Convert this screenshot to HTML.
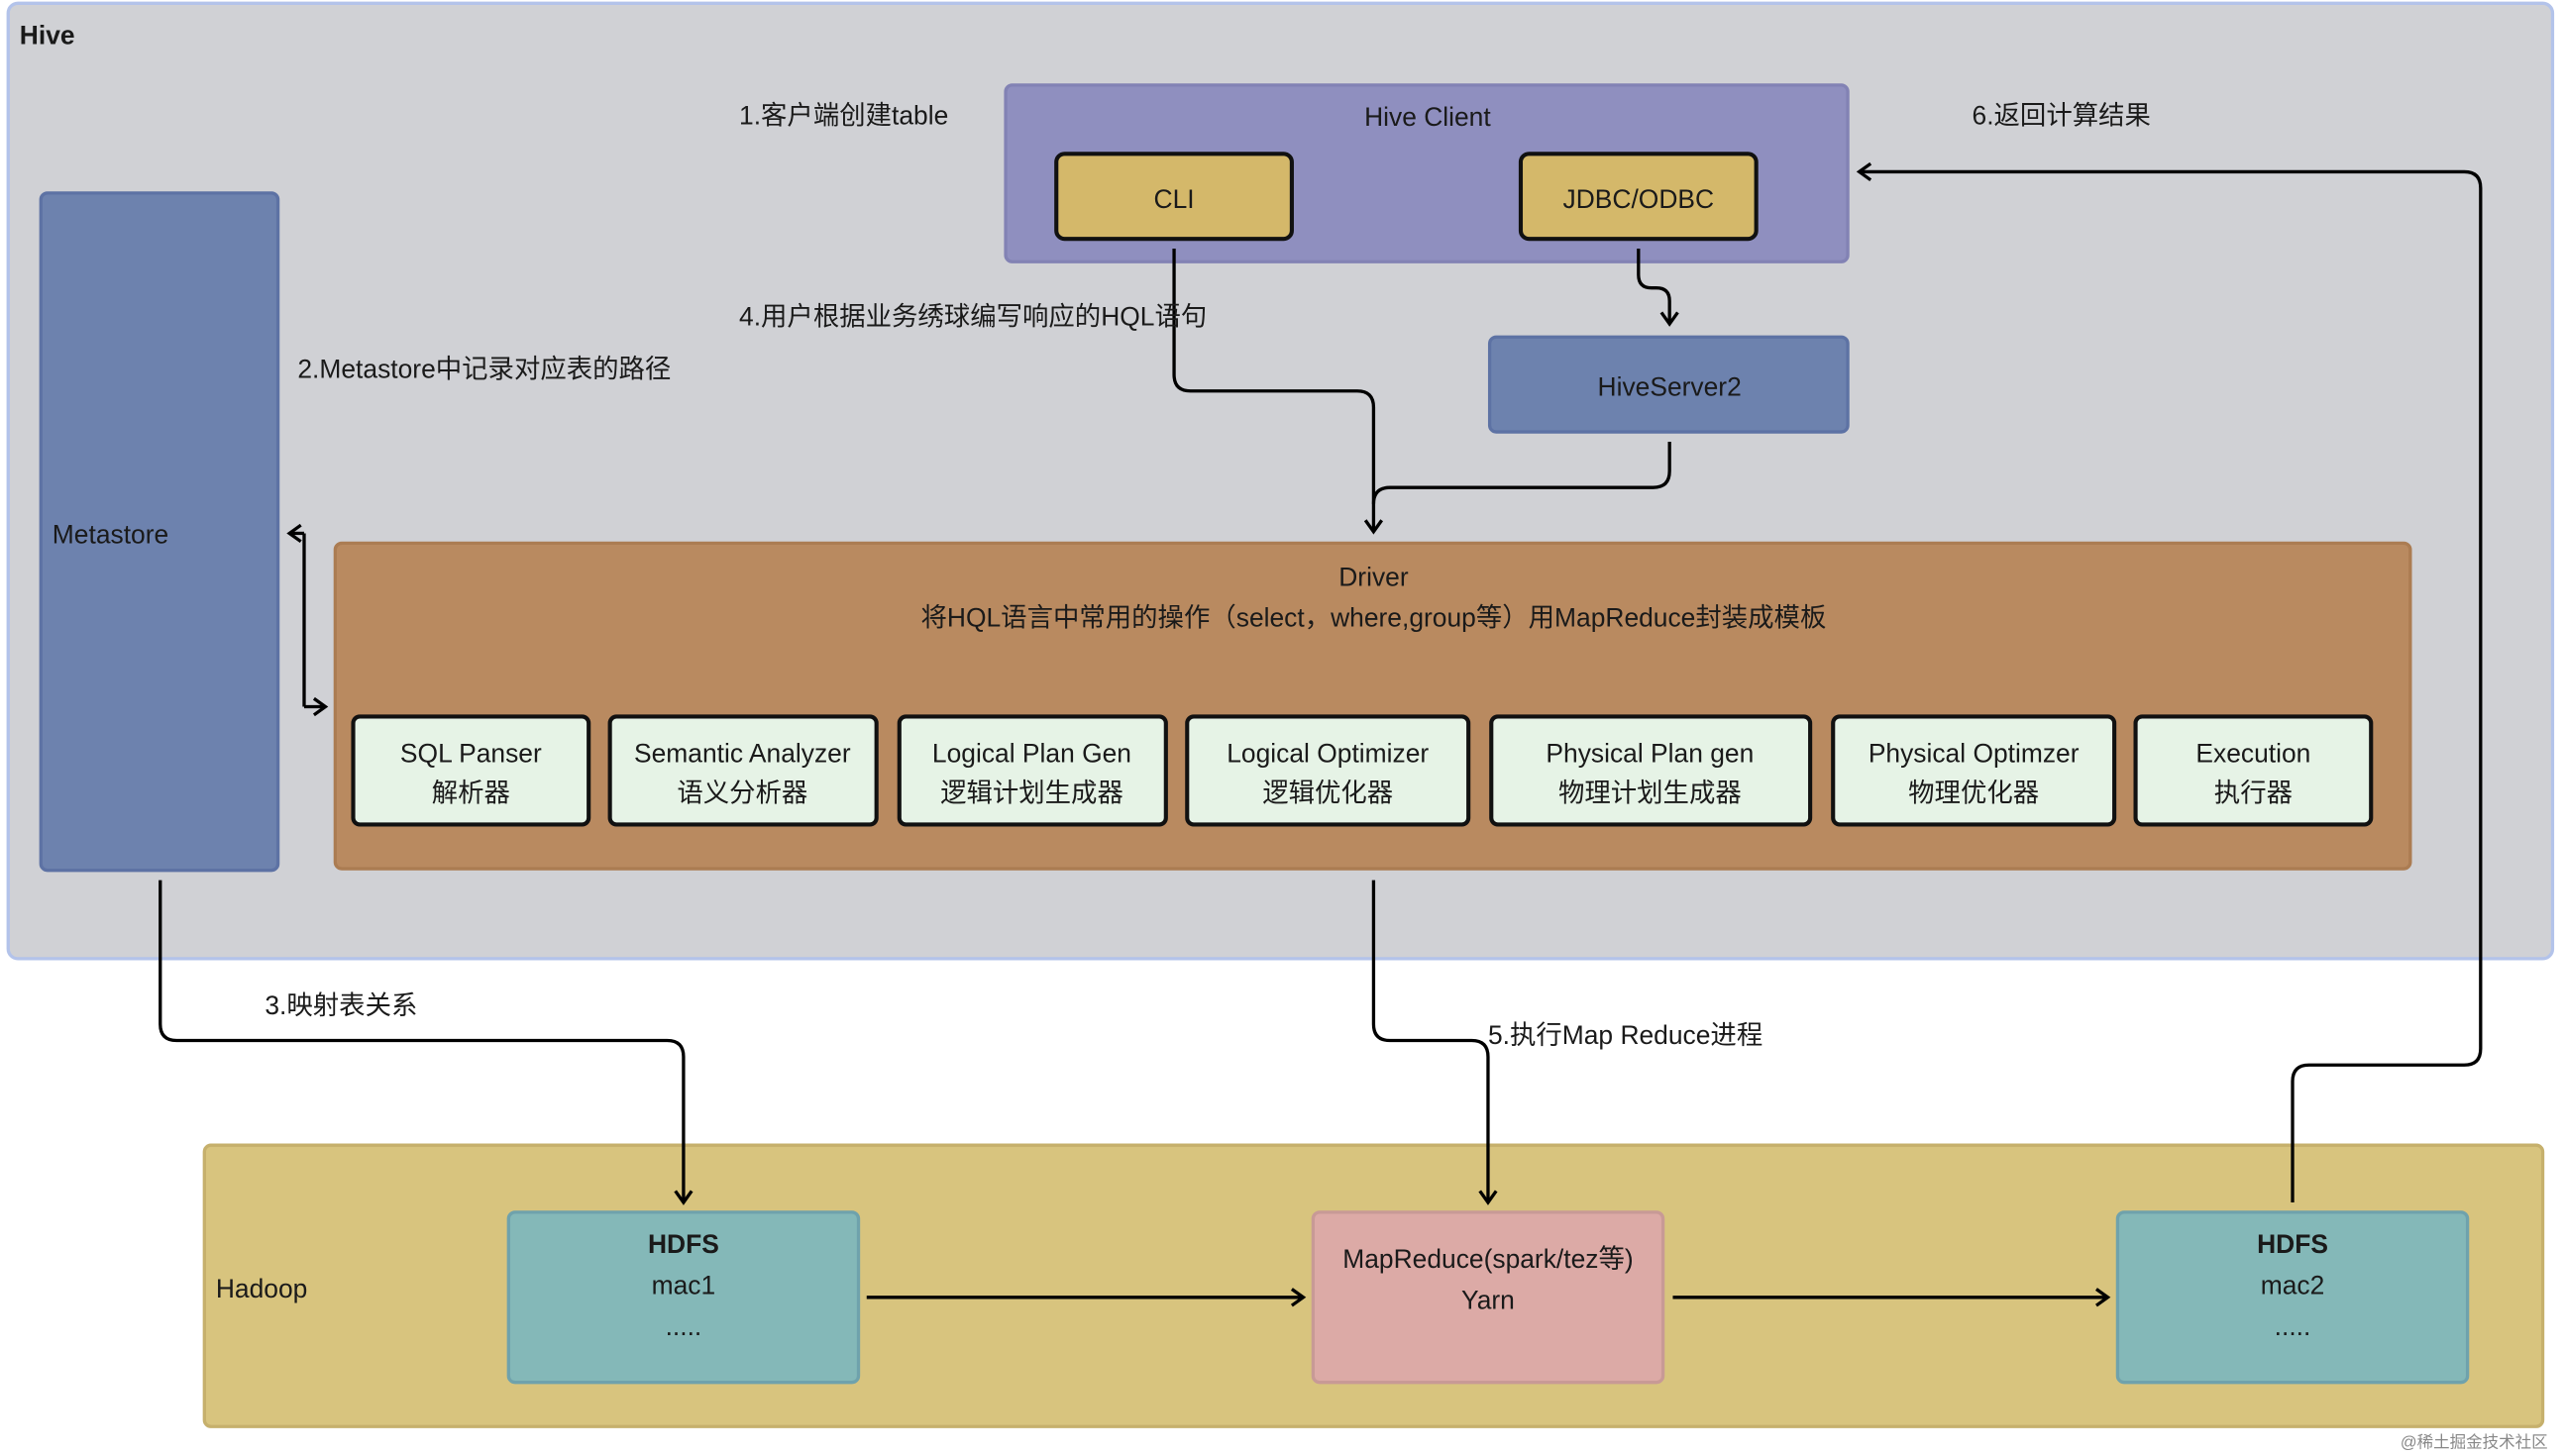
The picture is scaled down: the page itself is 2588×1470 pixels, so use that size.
<!DOCTYPE html>
<html><head><meta charset="utf-8"><style>
html,body{margin:0;padding:0;background:#fff;width:2588px;height:1470px;overflow:hidden}
svg{display:block}
text{font-family:"Liberation Sans","Noto Sans CJK SC",sans-serif;fill:#1a1a1a}
</style></head><body>
<svg width="2588" height="1470" viewBox="0 0 1568 890" preserveAspectRatio="none" xmlns="http://www.w3.org/2000/svg">
<defs>
<marker id="a" markerWidth="12" markerHeight="12" refX="9" refY="6" orient="auto" markerUnits="userSpaceOnUse">
<path d="M2,1 L9,6 L2,11" fill="none" stroke="#000" stroke-width="2"/>
</marker>
</defs>
<rect x="0" y="0" width="1568" height="890" fill="#fff"/>
<rect x="5" y="2" width="1556" height="584" rx="6" fill="#d0d1d5" stroke="#b3c3ea" stroke-width="2"/>
<text x="12" y="27" font-size="16" font-weight="bold">Hive</text>

<rect x="615" y="52" width="515" height="108" rx="4" fill="#8f8fbf" stroke="#8282b4" stroke-width="2"/>
<text x="873" y="77" font-size="16" text-anchor="middle">Hive Client</text>
<rect x="646" y="94" width="144" height="52" rx="5" fill="#d4b86a" stroke="#111" stroke-width="2.5"/>
<text x="718" y="127" font-size="16" text-anchor="middle">CLI</text>
<rect x="930" y="94" width="144" height="52" rx="5" fill="#d4b86a" stroke="#111" stroke-width="2.5"/>
<text x="1002" y="127" font-size="16" text-anchor="middle">JDBC/ODBC</text>

<rect x="911" y="206" width="219" height="58" rx="4" fill="#6d82ae" stroke="#5d72a4" stroke-width="2"/>
<text x="1021" y="242" font-size="16" text-anchor="middle">HiveServer2</text>

<rect x="25" y="118" width="145" height="414" rx="4" fill="#6d82ae" stroke="#5d72a4" stroke-width="2"/>
<text x="32" y="332" font-size="16">Metastore</text>

<rect x="205" y="332" width="1269" height="199" rx="4" fill="#b98a60" stroke="#ab7c52" stroke-width="2"/>
<text x="840" y="358" font-size="16" text-anchor="middle">Driver</text>
<text x="840" y="383" font-size="16" text-anchor="middle">将HQL语言中常用的操作（select，where,group等）用MapReduce封装成模板</text>

<g fill="#e6f3e6" stroke="#111" stroke-width="2.5">
<rect x="216" y="438" width="144" height="66" rx="4"/>
<rect x="373" y="438" width="163" height="66" rx="4"/>
<rect x="550" y="438" width="163" height="66" rx="4"/>
<rect x="726" y="438" width="172" height="66" rx="4"/>
<rect x="912" y="438" width="195" height="66" rx="4"/>
<rect x="1121" y="438" width="172" height="66" rx="4"/>
<rect x="1306" y="438" width="144" height="66" rx="4"/>
</g>
<g font-size="16" text-anchor="middle">
<text x="288" y="466">SQL Panser</text><text x="288" y="490">解析器</text>
<text x="454" y="466">Semantic Analyzer</text><text x="454" y="490">语义分析器</text>
<text x="631" y="466">Logical Plan Gen</text><text x="631" y="490">逻辑计划生成器</text>
<text x="812" y="466">Logical Optimizer</text><text x="812" y="490">逻辑优化器</text>
<text x="1009" y="466">Physical Plan gen</text><text x="1009" y="490">物理计划生成器</text>
<text x="1207" y="466">Physical Optimzer</text><text x="1207" y="490">物理优化器</text>
<text x="1378" y="466">Execution</text><text x="1378" y="490">执行器</text>
</g>

<rect x="125" y="700" width="1430" height="172" rx="4" fill="#d8c47e" stroke="#c6b06c" stroke-width="2"/>
<text x="132" y="793" font-size="16">Hadoop</text>
<rect x="311" y="741" width="214" height="104" rx="4" fill="#84b8b8" stroke="#6fa2ac" stroke-width="2"/>
<text x="418" y="766" font-size="16" font-weight="bold" text-anchor="middle">HDFS</text>
<text x="418" y="791" font-size="16" text-anchor="middle">mac1</text>
<text x="418" y="816" font-size="16" text-anchor="middle">.....</text>
<rect x="803" y="741" width="214" height="104" rx="4" fill="#dcaaa6" stroke="#c89a96" stroke-width="2"/>
<text x="910" y="775" font-size="16" text-anchor="middle">MapReduce(spark/tez等)</text>
<text x="910" y="800" font-size="16" text-anchor="middle">Yarn</text>
<rect x="1295" y="741" width="214" height="104" rx="4" fill="#84b8b8" stroke="#6fa2ac" stroke-width="2"/>
<text x="1402" y="766" font-size="16" font-weight="bold" text-anchor="middle">HDFS</text>
<text x="1402" y="791" font-size="16" text-anchor="middle">mac2</text>
<text x="1402" y="816" font-size="16" text-anchor="middle">.....</text>

<g fill="none" stroke="#000" stroke-width="2">
<path d="M718,152 V229 Q718,239 728,239 H830 Q840,239 840,249 V325" marker-end="url(#a)"/>
<path d="M1021,270 V288 Q1021,298 1011,298 H850 Q840,298 840,308"/>
<path d="M1002,152 V168 Q1002,176 1010,176 H1013 Q1021,176 1021,184 V198" marker-end="url(#a)"/>
<path d="M186,326 V432"/>
<path d="M98,538 V626 Q98,636 108,636 H408 Q418,636 418,646 V735" marker-end="url(#a)"/>
<path d="M840,538 V626 Q840,636 850,636 H900 Q910,636 910,646 V735" marker-end="url(#a)"/>
<path d="M530,793 H797" marker-end="url(#a)"/>
<path d="M1023,793 H1289" marker-end="url(#a)"/>
<path d="M1402,735 V661 Q1402,651 1412,651 H1507 Q1517,651 1517,641 V115 Q1517,105 1507,105 H1137" marker-end="url(#a)"/>
</g>
<path d="M186,326 L177,326" stroke="#000" stroke-width="2" fill="none" marker-end="url(#a)"/>
<path d="M186,432 L199,432" stroke="#000" stroke-width="2" fill="none" marker-end="url(#a)"/>

<g font-size="16">
<text x="452" y="76">1.客户端创建table</text>
<text x="182" y="231">2.Metastore中记录对应表的路径</text>
<text x="162" y="620">3.映射表关系</text>
<text x="452" y="199">4.用户根据业务绣球编写响应的HQL语句</text>
<text x="910" y="638">5.执行Map Reduce进程</text>
<text x="1206" y="76">6.返回计算结果</text>
</g>
<text x="1468" y="885" font-size="10" style="fill:#888">@稀土掘金技术社区</text>
</svg>
</body></html>
